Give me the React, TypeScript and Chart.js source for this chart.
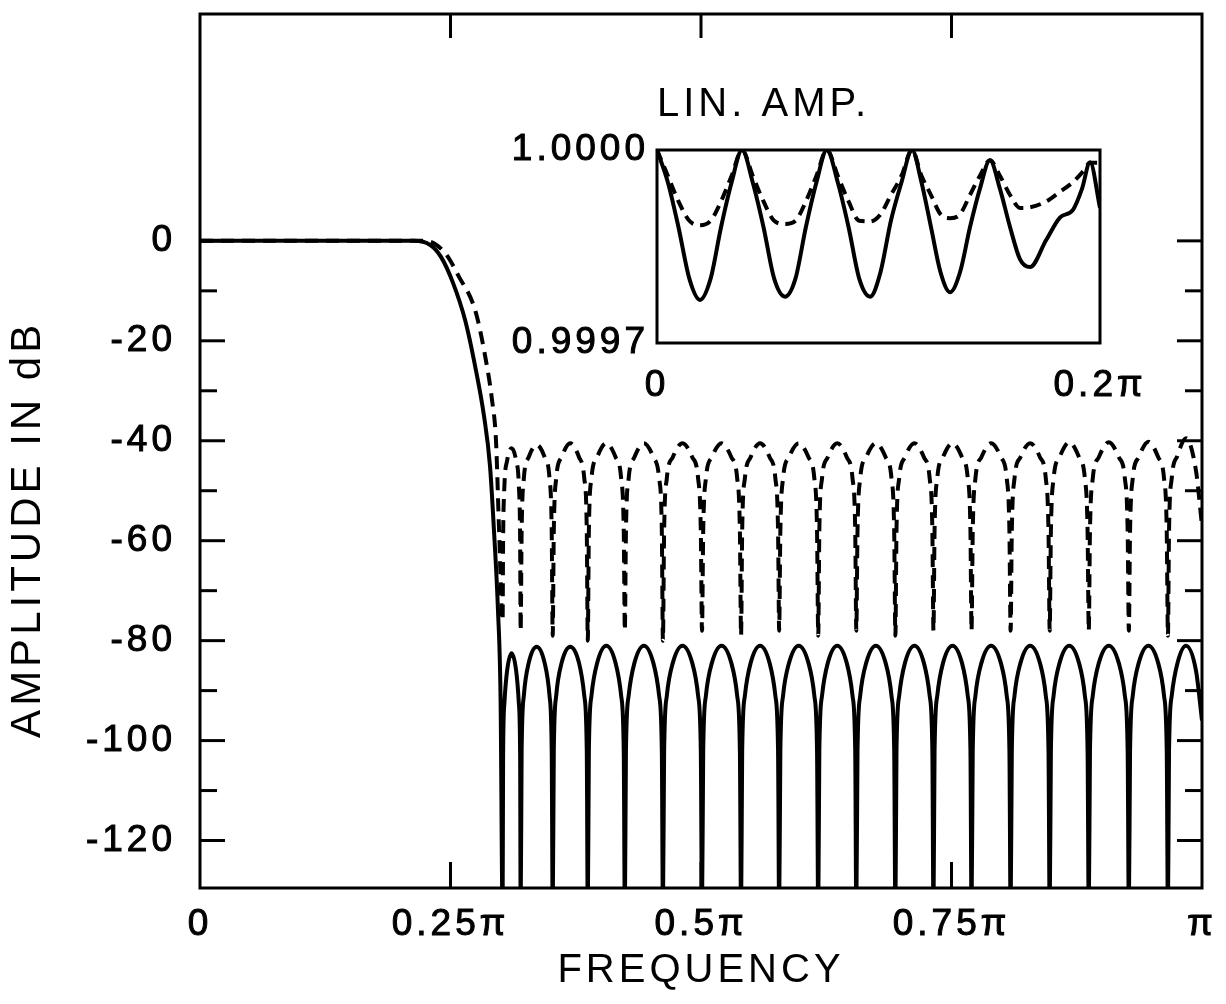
import React, { useEffect, useRef } from 'react';
import { Chart, registerables } from 'chart.js';

Chart.register(...registerables);

const FONT = "'Liberation Sans', Arial, Helvetica, sans-serif";

// ---------- main chart: axes ----------
const xTickValues = [0, 0.25, 0.5, 0.75, 1];
const xTickLabels = ['0', '0.25π', '0.5π', '0.75π', 'π'];
const yTickValues = [-120, -100, -80, -60, -40, -20, 0];
const yTickLabels = ['-120', '-100', '-80', '-60', '-40', '-20', '0'];
const yTickMarks = [0, -10, -20, -30, -40, -50, -60, -70, -80, -90, -100, -110, -120];
const xTickMarks = [0.25, 0.5, 0.75];
const xTitle = 'FREQUENCY';
const yTitle = 'AMPLITUDE IN dB';

// ---------- main chart: passband + transition (frequency in units of π, dB) ----------
const solidTransX = [0, 0.1, 0.2, 0.2136, 0.2295, 0.2405, 0.2525, 0.2645, 0.2745, 0.2834, 0.2894, 0.2934, 0.2974, 0.3];
const solidTransDb = [0, 0, 0, 0, -0.8, -3.2, -8.4, -15.8, -25, -35, -45, -58, -74, -92];
const dashTransX = [0, 0.1, 0.2, 0.225, 0.2445, 0.2585, 0.2745, 0.2834, 0.2914, 0.2954, 0.2985];
const dashTransDb = [0, 0, 0, 0, -2.4, -7.2, -13.8, -21.8, -31.8, -40, -58];

// ---------- main chart: stopband lobes (shared frequencies) ----------
const stopX = [
  0.302, 0.3025, 0.3038, 0.3065, 0.311, 0.3155, 0.3182, 0.3195,
  0.32, 0.321, 0.3232, 0.328, 0.336, 0.344, 0.3488, 0.351,
  0.352, 0.3531, 0.3555, 0.3608, 0.3695, 0.3783, 0.3835, 0.386,
  0.387, 0.3881, 0.3907, 0.3963, 0.4055, 0.4148, 0.4203, 0.4229,
  0.424, 0.4251, 0.4278, 0.4335, 0.443, 0.4525, 0.4582, 0.4609,
  0.462, 0.4632, 0.4659, 0.4718, 0.4815, 0.4913, 0.4971, 0.4998,
  0.501, 0.5022, 0.5049, 0.5108, 0.5205, 0.5303, 0.5361, 0.5388,
  0.54, 0.5411, 0.5438, 0.5495, 0.559, 0.5685, 0.5742, 0.5769,
  0.578, 0.5792, 0.5819, 0.5878, 0.5975, 0.6073, 0.6131, 0.6158,
  0.617, 0.6181, 0.6208, 0.6265, 0.636, 0.6455, 0.6512, 0.6539,
  0.655, 0.6562, 0.6589, 0.6648, 0.6745, 0.6843, 0.6901, 0.6928,
  0.694, 0.6951, 0.6978, 0.7035, 0.713, 0.7225, 0.7282, 0.7309,
  0.732, 0.7331, 0.7358, 0.7415, 0.751, 0.7605, 0.7662, 0.7689,
  0.77, 0.7712, 0.7739, 0.7798, 0.7895, 0.7993, 0.8051, 0.8078,
  0.809, 0.8102, 0.8129, 0.8188, 0.8285, 0.8383, 0.8441, 0.8468,
  0.848, 0.8492, 0.8519, 0.8578, 0.8675, 0.8773, 0.8831, 0.8858,
  0.887, 0.8882, 0.891, 0.897, 0.907, 0.917, 0.923, 0.9258,
  0.927, 0.9282, 0.9309, 0.9368, 0.9465, 0.9563, 0.9621, 0.9648,
  0.966, 0.9671, 0.9698, 0.9755, 0.984, 0.994, 1.0,
];
const solidStopDb = [
  -135, -103, -92.5, -86, -82.5, -86, -92.5, -103,
  -135, -102, -91, -84.5, -81.2, -84.5, -91, -102,
  -135, -102, -91, -84.5, -81.2, -84.5, -91, -102,
  -135, -102, -91, -84.5, -81, -84.5, -91, -102,
  -135, -102, -91, -84.5, -81, -84.5, -91, -102,
  -135, -102, -91, -84.5, -81, -84.5, -91, -102,
  -135, -102, -91, -84.5, -81, -84.5, -91, -102,
  -135, -102, -91, -84.5, -81, -84.5, -91, -102,
  -135, -102, -91, -84.5, -81, -84.5, -91, -102,
  -135, -102, -91, -84.5, -81, -84.5, -91, -102,
  -135, -102, -91, -84.5, -81, -84.5, -91, -102,
  -135, -102, -91, -84.5, -81, -84.5, -91, -102,
  -135, -102, -91, -84.5, -81, -84.5, -91, -102,
  -135, -102, -91, -84.5, -81, -84.5, -91, -102,
  -135, -102, -91, -84.5, -81, -84.5, -91, -102,
  -135, -102, -91, -84.5, -81, -84.5, -91, -102,
  -135, -102, -91, -84.5, -81, -84.5, -91, -102,
  -135, -102, -91, -84.5, -81, -84.5, -91, -102,
  -135, -102, -91, -84.5, -81, -86, -96,
];
const dashStopDb = [
  -76, -60, -49, -44, -41.5, -44, -49, -60,
  -78, -58, -47.5, -43.3, -40.8, -43.3, -47.5, -58,
  -79, -58, -47.5, -43.3, -40.5, -43.3, -47.5, -58,
  -80, -58, -47.5, -43.3, -40.5, -43.3, -47.5, -58,
  -78, -58, -47.5, -43.3, -40.5, -43.3, -47.5, -58,
  -80, -58, -47.5, -43.3, -40.5, -43.3, -47.5, -58,
  -78, -58, -47.5, -43.3, -40.5, -43.3, -47.5, -58,
  -79, -58, -47.5, -43.3, -40.5, -43.3, -47.5, -58,
  -78, -58, -47.5, -43.3, -40.5, -43.3, -47.5, -58,
  -79, -58, -47.5, -43.3, -40.5, -43.3, -47.5, -58,
  -78, -58, -47.5, -43.3, -40.5, -43.3, -47.5, -58,
  -79, -58, -47.5, -43.3, -40.5, -43.3, -47.5, -58,
  -78, -58, -47.5, -43.3, -40.5, -43.3, -47.5, -58,
  -78, -58, -47.5, -43.3, -40.5, -43.3, -47.5, -58,
  -78, -58, -47.5, -43.3, -40.5, -43.3, -47.5, -58,
  -78, -58, -47.5, -43.3, -40.3, -43.3, -47.5, -58,
  -78, -58, -47.5, -43.3, -40.3, -43.3, -47.5, -58,
  -78, -58, -47.5, -43.3, -40.2, -43.3, -47.5, -58,
  -79, -58, -47.5, -43, -39.5, -46, -57,
];

// ---------- inset: linear amplitude in the passband ----------
const insetTitle = 'LIN. AMP.';
const insetXTickValues = [0, 0.2];
const insetXTickLabels = ['0', '0.2π'];
const insetYTickValues = [0.9997, 1.0];
const insetYTickLabels = ['0.9997', '1.0000'];
const insetX = [
  0, 0.0049, 0.0097, 0.0146, 0.0194, 0.0242, 0.0289, 0.0337, 0.0384,
  0.0432, 0.0481, 0.0529, 0.0578, 0.0625, 0.0672, 0.072, 0.0767,
  0.0816, 0.0865, 0.0913, 0.0962, 0.1009, 0.1056, 0.1104, 0.1151,
  0.1194, 0.1237, 0.128, 0.1323, 0.1368, 0.1413, 0.1458, 0.1503,
  0.1548, 0.1594, 0.1639, 0.1684, 0.1757, 0.1819, 0.1878, 0.1919, 0.1955, 0.2,
];
const insetSolid = [
  1.0, 0.99995, 0.99988, 0.9998, 0.999767, 0.9998, 0.99988, 0.99995, 1.0,
  0.99995, 0.99988, 0.9998, 0.999772, 0.9998, 0.99988, 0.99995, 1.0,
  0.99995, 0.99988, 0.9998, 0.999772, 0.99981, 0.99989, 0.99995, 1.0,
  0.99995, 0.99988, 0.99981, 0.999779, 0.99981, 0.99988, 0.99994, 0.999984,
  0.99994, 0.99988, 0.99983, 0.999818, 0.99986, 0.999895, 0.999907, 0.99994, 0.999981, 0.99991,
];
const insetDashed = [
  1.0, 0.99996, 0.99992, 0.99989, 0.999883, 0.99989, 0.99992, 0.99996, 1.0,
  0.99996, 0.99992, 0.99989, 0.999885, 0.99989, 0.99992, 0.99996, 1.0,
  0.99996, 0.99992, 0.99989, 0.999889, 0.9999, 0.99993, 0.99996, 1.0,
  0.99996, 0.99993, 0.9999, 0.999894, 0.9999, 0.99993, 0.99996, 0.999984,
  0.99996, 0.99993, 0.99991, 0.999911, 0.99992, 0.999935, 0.99995, 0.999965, 0.99998, 0.99998,
];

const toPts = (xs: number[], ys: number[]) => xs.map((x, i) => ({ x, y: ys[i] }));

const noScalePadding = (s: any) => {
  s.paddingTop = 0;
  s.paddingBottom = 0;
  s.paddingLeft = 0;
  s.paddingRight = 0;
};

const LS = '4px';
const letterSpacingPlugin = {
  id: 'letterSpacing',
  beforeUpdate(chart: any) {
    (chart.ctx as any).letterSpacing = LS;
  },
  beforeDraw(chart: any) {
    (chart.ctx as any).letterSpacing = LS;
  },
};

const framePlugin = {
  id: 'frame',
  afterDraw(chart: any) {
    const { ctx, chartArea: a } = chart;
    ctx.save();
    ctx.strokeStyle = '#000';
    ctx.lineWidth = 3;
    ctx.strokeRect(a.left, a.top, a.right - a.left, a.bottom - a.top);
    ctx.restore();
  },
};

const innerTicksPlugin = {
  id: 'innerTicks',
  afterDraw(chart: any) {
    const { ctx, chartArea: a, scales } = chart;
    const x = scales.x;
    const y = scales.y;
    ctx.save();
    ctx.strokeStyle = '#000';
    ctx.lineWidth = 3;
    ctx.lineCap = 'butt';
    const line = (x1: number, y1: number, x2: number, y2: number) => {
      ctx.beginPath();
      ctx.moveTo(x1, y1);
      ctx.lineTo(x2, y2);
      ctx.stroke();
    };
    for (const v of yTickMarks) {
      const py = y.getPixelForValue(v);
      const len = v % 20 === 0 ? 25 : 17;
      line(a.left, py, a.left + len, py);
      line(a.right, py, a.right - len, py);
    }
    for (const v of xTickMarks) {
      const px = x.getPixelForValue(v);
      line(px, a.top, px, a.top + 24);
      line(px, a.bottom, px, a.bottom - 26);
    }
    ctx.restore();
  },
};

const tickFont = { family: FONT, size: 37 };

function MainChart() {
  const ref = useRef<HTMLCanvasElement | null>(null);
  useEffect(() => {
    if (!ref.current) return;
    const solidPts = [...toPts(solidTransX, solidTransDb), ...toPts(stopX, solidStopDb)];
    const dashPts = [...toPts(dashTransX, dashTransDb), ...toPts(stopX, dashStopDb)];
    const chart = new Chart(ref.current, {
      type: 'line',
      data: {
        datasets: [
          {
            label: 'solid',
            data: solidPts,
            borderColor: '#000',
            borderWidth: 4,
            pointRadius: 0,
            cubicInterpolationMode: 'monotone',
            fill: false,
          },
          {
            label: 'dashed',
            data: dashPts,
            borderColor: '#000',
            borderWidth: 4,
            borderDash: [13, 8],
            pointRadius: 0,
            cubicInterpolationMode: 'monotone',
            fill: false,
          },
        ],
      },
      options: {
        animation: false,
        responsive: false,
        maintainAspectRatio: false,
        devicePixelRatio: 1,
        events: [],
        layout: { padding: { top: 14, right: 24, left: 0, bottom: 0 } },
        plugins: { legend: { display: false }, tooltip: { enabled: false }, title: { display: false } },
        scales: {
          x: {
            type: 'linear',
            min: 0,
            max: 1,
            afterFit: (s: any) => { s.height = 116; noScalePadding(s); },
            afterBuildTicks: (s: any) => { s.ticks = xTickValues.map((value) => ({ value })); },
            ticks: {
              callback: (_v: any, i: number) => xTickLabels[i],
              font: tickFont,
              color: '#000',
              textStrokeColor: '#000',
              textStrokeWidth: 1,
              padding: 15,
              maxRotation: 0,
              minRotation: 0,
              autoSkip: false,
            },
            grid: { display: false, drawTicks: false },
            border: { display: false },
            title: {
              display: true,
              text: xTitle,
              font: { family: FONT, size: 40 },
              color: '#000',
              padding: { top: 0, bottom: 9 },
            },
          },
          y: {
            type: 'linear',
            min: -129.5,
            max: 45.4,
            afterFit: (s: any) => { s.width = 200; noScalePadding(s); },
            afterBuildTicks: (s: any) => { s.ticks = yTickValues.map((value) => ({ value })); },
            ticks: {
              callback: (_v: any, i: number) => yTickLabels[i],
              font: tickFont,
              color: '#000',
              textStrokeColor: '#000',
              textStrokeWidth: 1,
              padding: 24,
              autoSkip: false,
            },
            grid: { display: false, drawTicks: false },
            border: { display: false },
            title: {
              display: true,
              text: yTitle + '          ',
              font: { family: FONT, size: 42 },
              color: '#000',
              padding: { top: 3, bottom: 0 },
            },
          },
        },
      },
      plugins: [letterSpacingPlugin, framePlugin, innerTicksPlugin],
    } as any);
    return () => chart.destroy();
  }, []);
  return (
    <canvas
      ref={ref}
      width={1226}
      height={1004}
      style={{ position: 'absolute', left: 0, top: 0, width: 1226, height: 1004 }}
    />
  );
}

function InsetChart() {
  const ref = useRef<HTMLCanvasElement | null>(null);
  useEffect(() => {
    if (!ref.current) return;
    const chart = new Chart(ref.current, {
      type: 'line',
      data: {
        datasets: [
          {
            label: 'solid',
            data: toPts(insetX, insetSolid),
            borderColor: '#000',
            borderWidth: 4,
            pointRadius: 0,
            cubicInterpolationMode: 'monotone',
            fill: false,
          },
          {
            label: 'dashed',
            data: toPts(insetX, insetDashed),
            borderColor: '#000',
            borderWidth: 4,
            borderDash: [11, 7],
            pointRadius: 0,
            cubicInterpolationMode: 'monotone',
            fill: false,
          },
        ],
      },
      options: {
        animation: false,
        responsive: false,
        maintainAspectRatio: false,
        devicePixelRatio: 1,
        events: [],
        layout: { padding: { top: 0, right: 100, left: 0, bottom: 0 } },
        plugins: {
          legend: { display: false },
          tooltip: { enabled: false },
          title: {
            display: true,
            text: insetTitle,
            align: 'start',
            fullSize: false,
            color: '#000',
            font: { family: FONT, size: 40, weight: 'normal' },
            padding: { top: 21, bottom: 21 },
          },
        },
        scales: {
          x: {
            type: 'linear',
            min: 0,
            max: 0.2,
            afterFit: (s: any) => { s.height = 97; noScalePadding(s); },
            afterBuildTicks: (s: any) => { s.ticks = insetXTickValues.map((value) => ({ value })); },
            ticks: {
              callback: (_v: any, i: number) => insetXTickLabels[i],
              font: tickFont,
              color: '#000',
              textStrokeColor: '#000',
              textStrokeWidth: 1,
              padding: 21,
              maxRotation: 0,
              minRotation: 0,
              autoSkip: false,
            },
            grid: { display: false, drawTicks: false },
            border: { display: false },
          },
          y: {
            type: 'linear',
            min: 0.9997,
            max: 1.0,
            afterFit: (s: any) => { s.width = 217; noScalePadding(s); },
            afterBuildTicks: (s: any) => { s.ticks = insetYTickValues.map((value) => ({ value })); },
            ticks: {
              callback: (_v: any, i: number) => insetYTickLabels[i],
              font: tickFont,
              color: '#000',
              textStrokeColor: '#000',
              textStrokeWidth: 1,
              padding: 8,
              autoSkip: false,
            },
            grid: { display: false, drawTicks: false },
            border: { display: false },
          },
        },
      },
      plugins: [letterSpacingPlugin, framePlugin],
    } as any);
    return () => chart.destroy();
  }, []);
  return (
    <canvas
      ref={ref}
      width={760}
      height={380}
      style={{ position: 'absolute', left: 440, top: 60, width: 760, height: 380 }}
    />
  );
}

export default function App() {
  return (
    <div style={{ position: 'absolute', left: 0, top: 0, width: 1226, height: 1004, background: '#fff' }}>
      <MainChart />
      <InsetChart />
    </div>
  );
}
